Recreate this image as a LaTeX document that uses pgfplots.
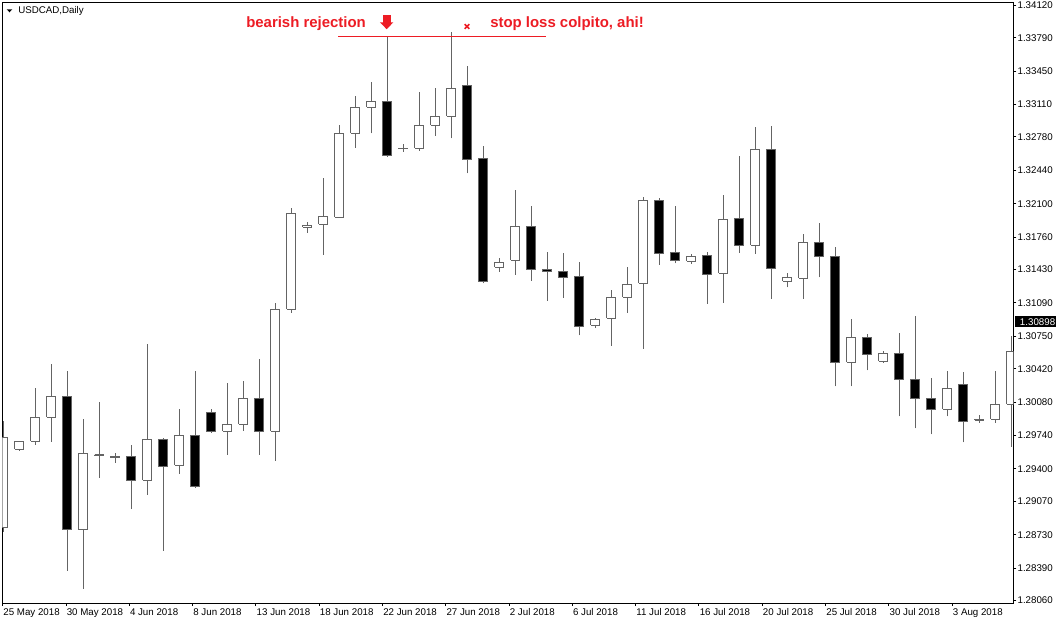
\documentclass[border=0pt]{standalone}
\usepackage{fontspec}
\setmainfont{Liberation Sans}
\usepackage{pgfplots}
\pgfplotsset{compat=1.18}
\usepackage{pgfplotstable}
\usetikzlibrary{arrows.meta}

\definecolor{candlegrey}{RGB}{100,100,100}
\definecolor{annred}{RGB}{237,28,36}

% daily OHLC, one row per bar (row index = bar position)
\pgfplotstableread{
o h l c
1.28802 1.29888 1.28761 1.29722
1.29600 1.29682 1.29586 1.29682
1.29682 1.30221 1.29647 1.29926
1.29926 1.30468 1.29677 1.30140
1.30140 1.30397 1.28364 1.28779
1.28779 1.29909 1.28181 1.29559
1.29545 1.30082 1.29311 1.29535
1.29530 1.29559 1.29464 1.29522
1.29529 1.29644 1.28992 1.29285
1.29285 1.30672 1.29138 1.29702
1.29702 1.29715 1.28568 1.29427
1.29437 1.30010 1.29352 1.29743
1.29743 1.30397 1.29209 1.29223
1.29977 1.30010 1.29769 1.29783
1.29783 1.30275 1.29545 1.29855
1.29855 1.30295 1.29789 1.30119
1.30119 1.30516 1.29545 1.29783
1.29783 1.31086 1.29484 1.31025
1.31025 1.32057 1.30991 1.32003
1.31860 1.31914 1.31805 1.31880
1.31891 1.32362 1.31581 1.31972
1.31962 1.32898 1.31955 1.32817
1.32817 1.33194 1.32670 1.33082
1.33082 1.33339 1.32817 1.33143
1.33143 1.33807 1.32579 1.32593
1.32664 1.32705 1.32630 1.32666
1.32664 1.33237 1.32640 1.32898
1.32898 1.33278 1.32793 1.32990
1.32990 1.33848 1.32766 1.33275
1.33306 1.33502 1.32410 1.32552
1.32562 1.32688 1.31288 1.31308
1.31453 1.31547 1.31408 1.31504
1.31524 1.32240 1.31377 1.31870
1.31870 1.32077 1.31316 1.31432
1.31432 1.31609 1.31113 1.31412
1.31412 1.31598 1.31143 1.31351
1.31361 1.31507 1.30761 1.30852
1.30862 1.30934 1.30838 1.30924
1.30934 1.31222 1.30655 1.31147
1.31147 1.31456 1.30991 1.31280
1.31290 1.32169 1.30624 1.32135
1.32135 1.32155 1.31479 1.31595
1.31606 1.32077 1.31494 1.31524
1.31514 1.31588 1.31490 1.31565
1.31575 1.31606 1.31082 1.31382
1.31392 1.32189 1.31093 1.31942
1.31952 1.32586 1.31601 1.31677
1.31677 1.32878 1.31591 1.32654
1.32654 1.32891 1.31133 1.31443
1.31310 1.31395 1.31249 1.31351
1.31341 1.31789 1.31133 1.31707
1.31707 1.31901 1.31351 1.31565
1.31565 1.31656 1.30241 1.30486
1.30486 1.30924 1.30241 1.30740
1.30740 1.30771 1.30404 1.30567
1.30496 1.30598 1.30479 1.30577
1.30577 1.30781 1.29936 1.30313
1.30313 1.30954 1.29814 1.30119
1.30119 1.30329 1.29753 1.30007
1.30007 1.30394 1.29936 1.30221
1.30262 1.30384 1.29671 1.29885
1.29898 1.29946 1.29871 1.29904
1.29906 1.30394 1.29871 1.30058
1.30058 1.30750 1.29627 1.30598
}\ohlc

\begin{document}
\begin{tikzpicture}
\fill[white] (-1.725pt,-15.525pt) rectangle (790.275pt,452.475pt);
\path[use as bounding box] (-1.725pt,-15.525pt) rectangle (790.275pt,452.475pt);
\begin{axis}[
    at={(0pt,0pt)}, anchor=south west,
    scale only axis, width=758.25pt, height=450.75pt,
    xmin=-0.0625, xmax=63.125,
    ymin=1.280324, ymax=1.341505,
    clip mode=individual,
    axis line style={black, line width=0.75pt},
    tick align=outside, major tick length=2.2pt,
    tick style={black, line width=0.75pt},
    xtick pos=bottom, ytick pos=right, yticklabel pos=right,
    tick label style={font=\fontsize{7.3}{8.6}\selectfont},
    xtick={-0.04,3.92,7.87,11.83,15.79,19.74,23.70,27.65,31.61,35.56,39.52,43.48,47.43,51.39,55.35,59.30},
    xticklabels={25 May 2018,30 May 2018,4 Jun 2018,8 Jun 2018,13 Jun 2018,18 Jun 2018,22 Jun 2018,27 Jun 2018,2 Jul 2018,6 Jul 2018,11 Jul 2018,16 Jul 2018,20 Jul 2018,25 Jul 2018,30 Jul 2018,3 Aug 2018},
    xticklabel style={anchor=north west, inner sep=0pt, xshift=0.4pt, yshift=-1.5pt},
    ytick={1.28060,1.28390,1.28730,1.29070,1.29400,1.29740,1.30080,1.30420,1.30750,1.31090,1.31430,1.31760,1.32100,1.32440,1.32780,1.33110,1.33450,1.33790,1.34120},
    yticklabels={1.28060,1.28390,1.28730,1.29070,1.29400,1.29740,1.30080,1.30420,1.30750,1.31090,1.31430,1.31760,1.32100,1.32440,1.32780,1.33110,1.33450,1.33790,1.34120},
    yticklabel style={anchor=west, inner sep=0pt, xshift=0.8pt},
]

% candles: wick first, then the body on top of it
\pgfplotsinvokeforeach{0,...,63}{%
  \pgfplotstablegetelem{#1}{o}\of\ohlc\let\vo\pgfplotsretval
  \pgfplotstablegetelem{#1}{h}\of\ohlc\let\vh\pgfplotsretval
  \pgfplotstablegetelem{#1}{l}\of\ohlc\let\vl\pgfplotsretval
  \pgfplotstablegetelem{#1}{c}\of\ohlc\let\vc\pgfplotsretval
  \pgfmathtruncatemacro\isbear{\vc<\vo}%
  \ifnum\isbear=1 \def\bodyfill{black}\else\def\bodyfill{white}\fi
  \pgfmathsetmacro\xa{#1-0.28125}%
  \pgfmathsetmacro\xb{#1+0.28125}%
  \edef\candle{%
    \noexpand\addplot[candlegrey, line width=0.8pt]
      coordinates {(#1,\vl) (#1,\vh)};
    \noexpand\addplot[draw=candlegrey, fill=\bodyfill, line width=0.8pt]
      coordinates {(\xa,\vo) (\xb,\vo) (\xb,\vc) (\xa,\vc) (\xa,\vo)};}%
  \candle
}

% annotations
\addplot[annred, line width=0.75pt] coordinates {(20.92,1.33807) (33.92,1.33807)};
\addplot[annred, line width=6pt, -{Triangle[width=9.75pt,length=5.25pt]}]
    coordinates {(23.96,1.34021) (23.96,1.33876)};
\addplot[annred, only marks, mark=x, mark size=2.4pt, line width=1.2pt]
    coordinates {(28.98,1.33904)};
\node[anchor=base west, inner sep=0pt, text=annred, font=\fontsize{11.2}{13}\selectfont\bfseries]
    at (axis cs:15.17,1.33896) {bearish rejection};
\node[anchor=base west, inner sep=0pt, text=annred, font=\fontsize{11.2}{13}\selectfont\bfseries]
    at (axis cs:30.42,1.33896) {stop loss colpito, ahi!};

% chart caption and current price
\fill (axis description cs:0.00435,0.98835) -- (axis description cs:0.00989,0.98835)
    -- (axis description cs:0.00712,0.98336) -- cycle;
\node[anchor=west, inner sep=0pt, font=\fontsize{7.3}{8.6}\selectfont]
    at (axis description cs:0.01553,0.98552) {USDCAD,Daily};
\node[anchor=west, fill=black, text=white, inner xsep=3.5pt, inner ysep=0pt,
    minimum height=8.25pt, xshift=1.3pt, font=\fontsize{7.3}{8.6}\selectfont]
    at (axis cs:63.125,1.30898) {1.30898};
\end{axis}
\end{tikzpicture}
\end{document}
